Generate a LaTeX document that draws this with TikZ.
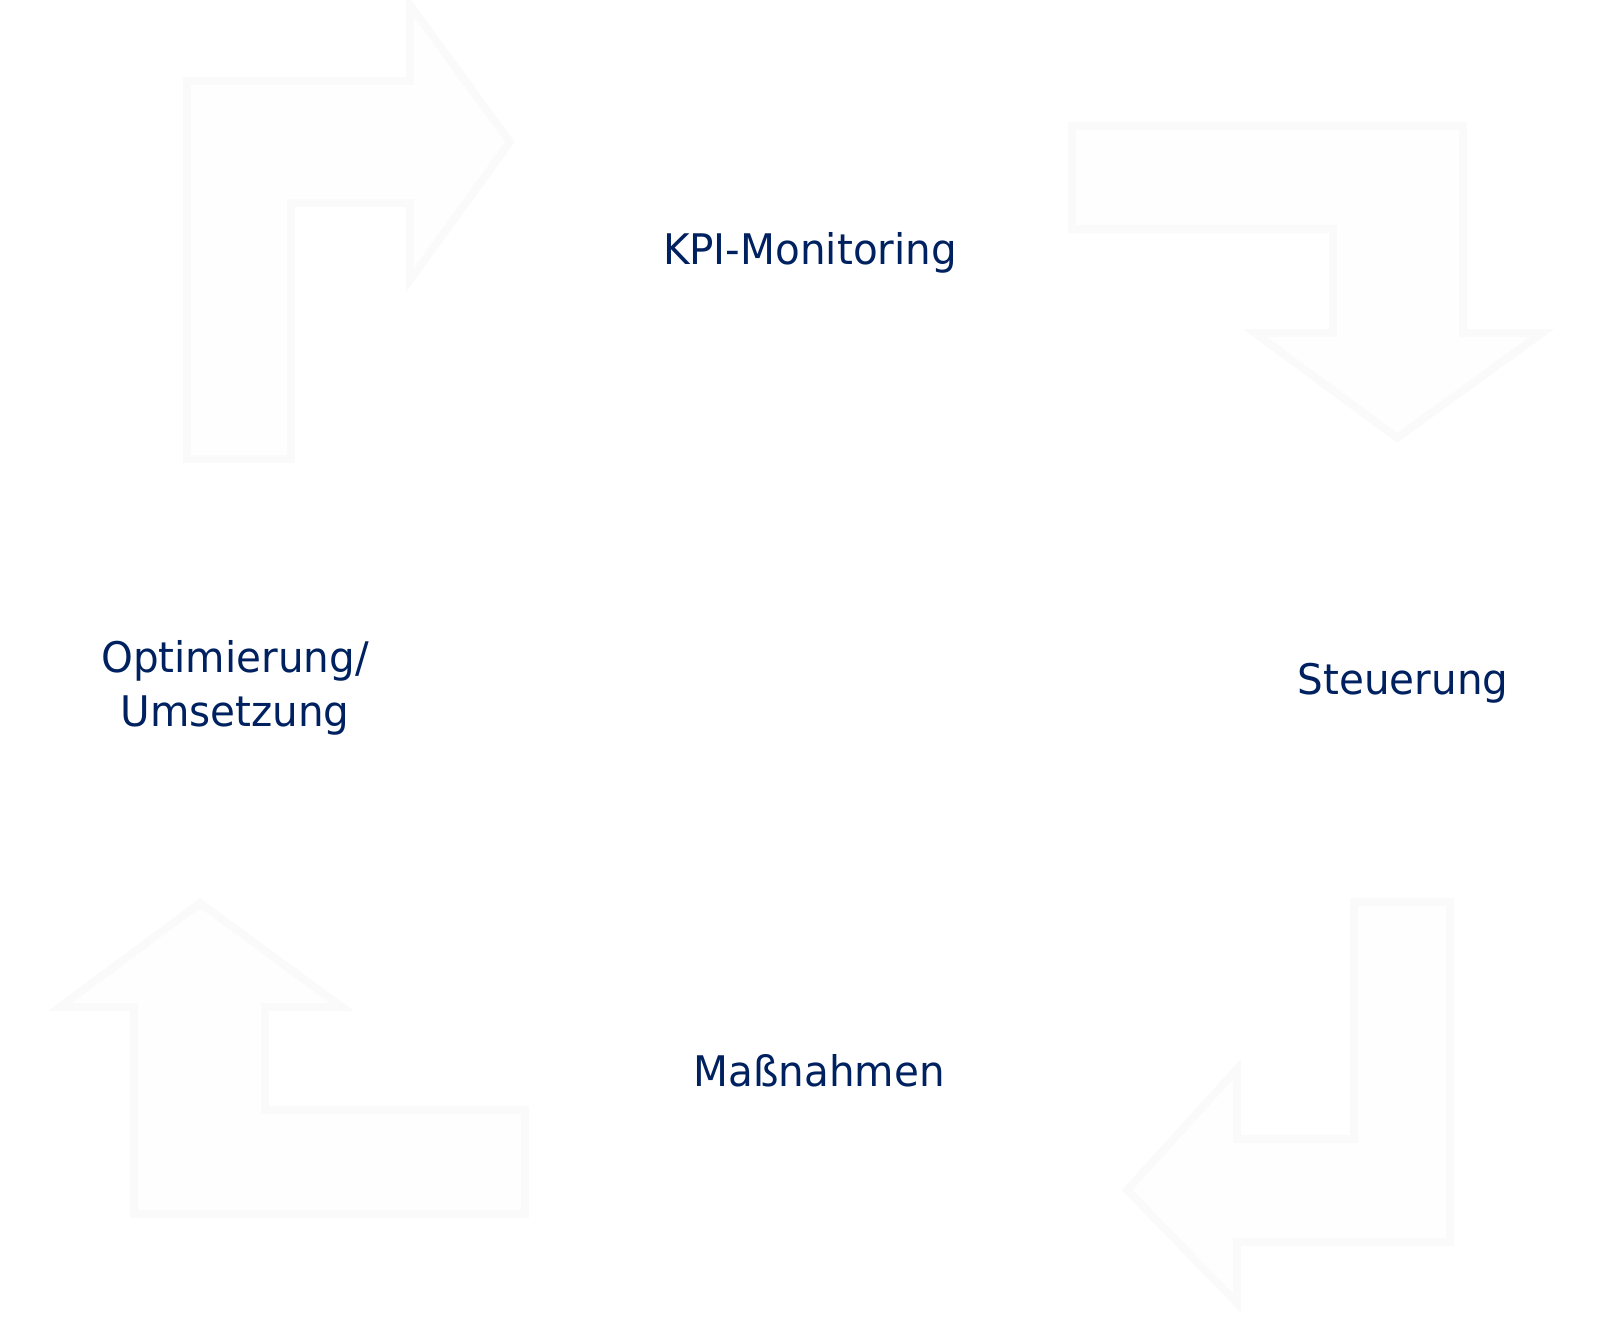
\documentclass[tikz,border=0pt]{standalone}
\usepackage{fontspec}
\setmainfont{DejaVu Sans}
\definecolor{navy}{RGB}{0,33,96}
\definecolor{ghost}{RGB}{250,250,250}
\definecolor{ghostfill}{RGB}{254,254,254}

\begin{document}
\begin{tikzpicture}[x=0.02cm, y=-0.02cm,
    nodes = {font=\fontsize{24}{30.6}\selectfont},
    bentarrow/.style = {draw=ghost, fill=ghostfill, line width=4.5pt, line join=miter},
    phase/.style = {text=navy, inner sep=0pt, xscale=0.96, align=center}]
  \useasboundingbox (0,0) rectangle (1619,1316);
  % Arrows of the cycle, drawn as closed outlines
  \draw[bentarrow] (187,459) -- (187,81) -- (410,81) -- (410,5)
    -- (510,142) -- (410,280) -- (410,203) -- (291,203) -- (291,459) -- cycle; % top left
  \draw[bentarrow] (1072,126) -- (1463,126) -- (1463,333) -- (1542,333)
    -- (1397,438) -- (1255,333) -- (1333,333) -- (1333,229) -- (1072,229) -- cycle; % top right
  \draw[bentarrow] (1354,902) -- (1450,902) -- (1450,1242) -- (1237,1242)
    -- (1237,1303) -- (1127,1190) -- (1237,1069) -- (1237,1139) -- (1354,1139) -- cycle; % bottom right
  \draw[bentarrow] (134,1214) -- (134,1007) -- (60,1007) -- (200,903)
    -- (342,1007) -- (265,1007) -- (265,1110) -- (525,1110) -- (525,1214) -- cycle; % bottom left
  % Phases
  \node[phase, anchor=base] (kpi) at (810,264) {KPI-Monitoring};
  \node[phase, anchor=base] (steuerung) at (1403,694) {Steuerung};
  \node[phase, anchor=base] (massnahmen) at (819,1086) {Maßnahmen};
  \node[phase] (optimierung) at (235,688) {Optimierung/\\Umsetzung};
\end{tikzpicture}
\end{document}
